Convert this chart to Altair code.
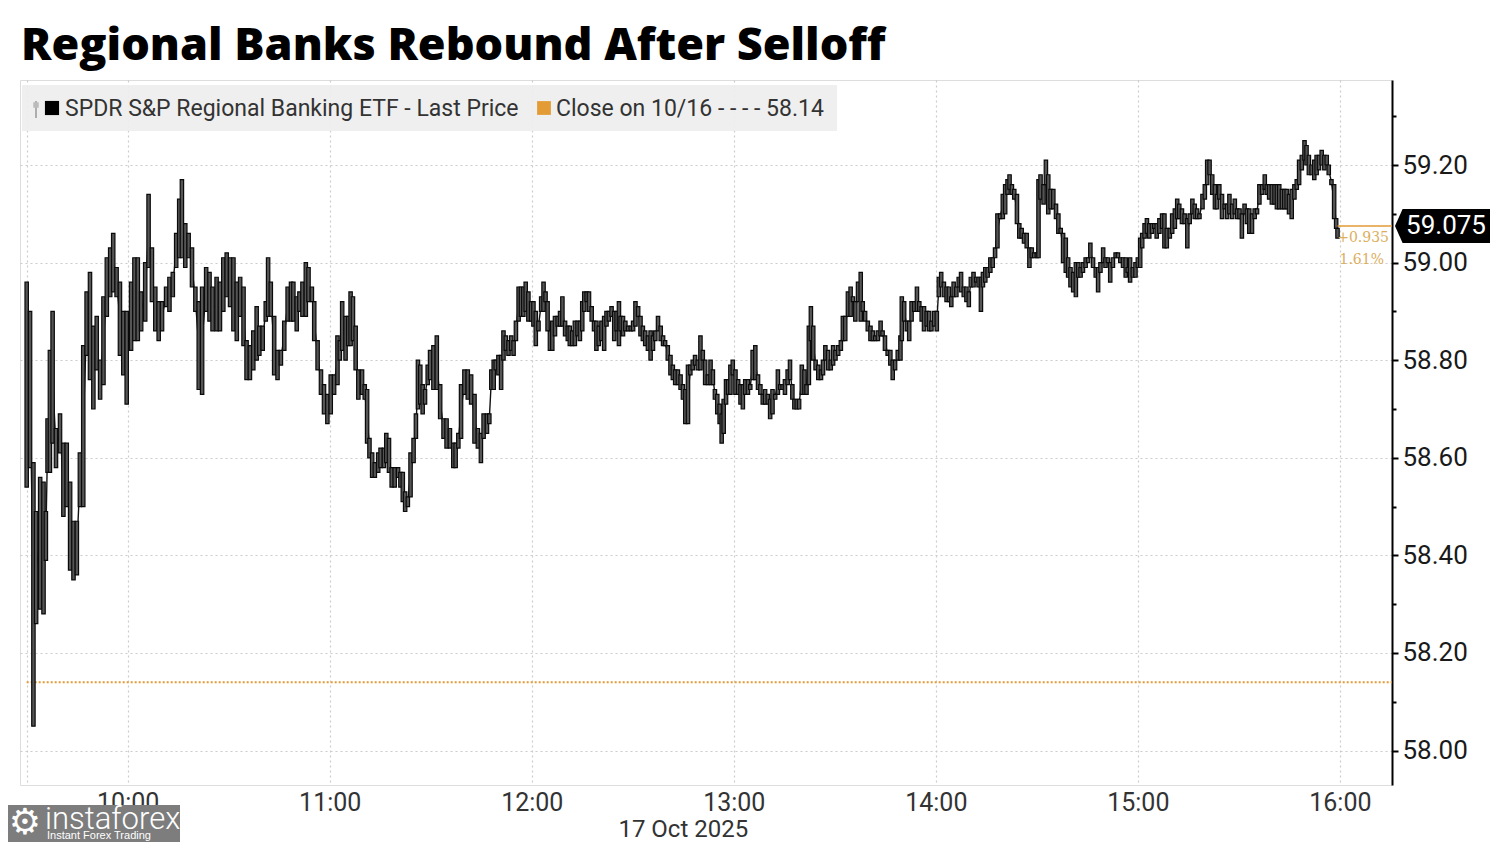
import altair as alt
import pandas as pd

# ---------------- text ----------------
TITLE = "Regional Banks Rebound After Selloff"
SERIES_NAME = "SPDR S&P Regional Banking ETF - Last Price"
CLOSE_NAME = "Close on 10/16 - - - - 58.14"
DATE_LABEL = "17 Oct 2025"
WATERMARK = "instaforex"
WATERMARK_SUB = "Instant Forex Trading"

prev_close = 58.14
last_price = 59.075
last_price_label = "59.075"
change_abs = "+0.935"
change_pct = "1.61%"

y_tick_values = [58.0, 58.1, 58.2, 58.3, 58.4, 58.5, 58.6, 58.7, 58.8, 58.9, 59.0, 59.1, 59.2, 59.3]
x_tick_times = ["09:30", "10:00", "11:00", "12:00", "13:00", "14:00", "15:00", "16:00"]

# ---------------- 1-minute bars: minutes after 09:30, low, high ----------------
minutes = [
    0.0, 1.0, 2.0, 2.8, 4.0, 5.0, 5.7, 6.2, 6.9, 7.7, 8.7, 9.9, 10.9, 11.9, 12.9, 13.9, 14.9, 15.8, 16.8, 17.8,
    18.8, 19.8, 20.8, 21.8, 22.8, 23.8, 24.8, 25.7, 26.7, 27.7, 28.7, 29.7, 31.0, 32.0, 33.0, 34.0, 35.2, 36.2,
    37.2, 38.2, 39.2, 40.2, 41.4, 42.4, 43.4, 44.4, 45.3, 46.1, 47.1, 48.1, 49.1, 50.1, 51.1, 52.1, 53.3, 54.3,
    55.2, 56.4, 57.4, 58.4, 59.4, 60.4, 61.4, 62.4, 63.4, 64.4, 65.3, 66.3, 67.3, 68.3,
    69.1, 70.1, 71.0, 71.7, 72.5, 73.5, 74.5, 75.5, 76.5, 77.5, 78.5, 79.2, 80.2, 81.0, 81.9, 82.9, 83.7, 84.7,
    85.4, 86.4, 87.4, 88.3, 89.3, 90.3, 91.3, 92.3, 93.0, 93.7, 94.7, 95.5, 96.2, 96.9, 97.7, 98.5, 99.6, 100.4,
    101.1, 101.8, 102.6, 103.4, 104.4, 105.1, 106.1, 106.8, 107.6, 108.4, 109.3, 110.3, 111.0, 111.7, 112.4,
    113.2, 114.0, 114.9, 115.6, 116.2, 116.9, 117.6, 118.3, 119.1, 119.8, 120.8, 121.8, 122.8, 123.8, 124.7,
    125.7, 126.7, 127.4, 128.2, 129.0, 130.0, 131.0, 132.0, 133.0, 134.0, 134.9,
    135.7, 136.7, 137.4, 138.0, 138.7, 139.3, 140.1, 140.9, 141.6, 142.3, 143.1, 143.9, 144.6, 145.3, 146.1,
    146.8, 147.5, 148.2, 149.0, 149.8, 150.5, 151.2, 152.0, 152.8, 153.5, 154.1, 154.7, 155.4, 156.1, 156.9,
    157.7, 158.4, 159.1, 159.9, 160.7, 161.3, 162.0, 162.8, 163.6, 164.3, 165.0, 165.6, 166.3, 167.0, 167.8,
    168.5, 169.2, 169.9, 170.7, 171.5, 172.2, 172.9, 173.7, 174.5, 175.2, 175.9, 176.4, 177.1, 177.8, 178.6,
    179.4, 180.1, 180.8, 181.6, 182.3, 183.0, 183.7, 184.5, 185.3, 186.0, 186.7, 187.5, 188.3, 189.0, 189.6,
    190.4, 191.2, 191.9, 192.6, 193.4, 194.2, 194.9, 195.6, 196.4, 197.1, 197.8, 198.5, 199.3, 200.1, 200.8,
    201.5, 202.3,
    203.1, 203.8, 204.4, 205.1, 205.8, 206.4, 207.0, 207.7, 208.3, 209.0, 209.7, 210.5, 211.3, 212.0, 212.7,
    213.4, 214.2, 214.9, 215.6, 216.4, 217.2, 217.9, 218.6, 219.3, 220.1, 220.8, 221.5, 222.3, 223.1, 223.8,
    224.5, 225.2, 226.0, 226.7, 227.4, 228.0, 228.7, 229.4, 230.2, 231.0, 231.6, 232.3, 232.9, 233.6, 234.3,
    235.1, 235.9, 236.5, 237.2, 238.0, 238.8, 239.5, 240.2, 241.0, 241.8, 242.4, 243.1, 243.9, 244.7, 245.4,
    246.1, 246.9, 247.7, 248.3, 249.0, 249.8, 250.6, 251.3, 252.0, 252.8, 253.6, 254.2, 254.9, 255.7, 256.5,
    257.2, 257.9, 258.7, 259.5, 259.9, 260.6, 261.4, 262.1, 262.8, 263.6, 264.4, 265.1, 265.8, 266.5, 267.3,
    268.0, 268.7, 269.5, 270.3,
    270.9, 271.6, 272.4, 273.2, 273.9, 274.6, 275.3, 276.1, 276.8, 277.5, 278.3, 279.1, 279.8, 280.4, 281.2,
    282.0, 282.7, 283.4, 284.0, 284.7, 285.4, 286.2, 286.9, 287.6, 288.3, 289.1, 289.9, 290.6, 291.3, 291.9,
    292.6, 293.3, 294.1, 294.8, 295.5, 296.2, 297.0, 297.8, 298.5, 299.2, 300.0, 300.5, 301.1, 302.0, 302.7,
    303.4, 304.1, 304.9, 305.7, 306.4, 307.1, 307.8, 308.6, 309.3, 310.0, 310.8, 311.6, 312.3, 313.0, 313.7,
    314.5, 315.2, 315.9, 316.7, 317.5, 318.2, 318.9, 319.7, 320.4, 321.1, 321.8, 322.6, 323.4, 324.1, 324.8,
    325.6, 326.4, 327.0, 327.7, 328.5, 329.3, 330.0, 330.7, 331.3, 332.0, 332.7, 333.4, 334.2, 334.9, 335.6,
    336.4, 337.2, 337.9, 338.6,
    339.5, 340.2, 341.0, 341.7, 342.3, 343.1, 343.9, 344.7, 345.4, 346.2, 346.9, 347.6, 348.3, 349.2, 349.9,
    350.6, 351.3, 352.1, 352.9, 353.5, 354.2, 355.0, 355.8, 356.5, 357.2, 358.0, 358.8, 359.5, 360.2, 360.9,
    361.7, 362.4, 363.1, 363.9, 364.7, 365.4, 366.1, 366.9, 367.7, 368.3, 369.0, 369.8, 370.6, 371.3, 372.0,
    372.8, 373.5, 374.2, 374.9, 375.7, 376.5, 377.2, 377.9, 378.7, 379.5, 380.1, 380.8, 381.6, 382.4, 383.1,
    383.8, 384.6, 385.4, 386.1, 386.7, 387.5, 388.3, 388.9, 389.3,
]
low = [
    58.54, 58.58, 58.05, 58.26, 58.29, 58.28, 58.39, 58.57, 58.57, 58.63, 58.58, 58.61, 58.48, 58.50, 58.37, 58.35,
    58.36, 58.50, 58.50, 58.81, 58.76, 58.70, 58.78, 58.72, 58.75, 58.89, 58.93, 58.94, 58.93, 58.81, 58.77, 58.71,
    58.82, 58.84, 58.84, 58.86, 58.88, 58.99, 58.92, 58.86, 58.84, 58.86, 58.91, 58.90, 58.93, 58.99, 59.01, 59.01,
    58.99, 59.01, 58.95, 58.90, 58.74, 58.73, 58.90, 58.88, 58.86, 58.86, 58.86, 58.90, 58.93, 58.91, 58.86, 58.84,
    58.89, 58.83, 58.76, 58.76, 58.78, 58.80,
    58.81, 58.82, 58.88, 58.89, 58.89, 58.77, 58.76, 58.79, 58.82, 58.88, 58.88, 58.88, 58.86, 58.90, 58.89, 58.89,
    58.92, 58.92, 58.84, 58.78, 58.73, 58.69, 58.67, 58.69, 58.73, 58.75, 58.80, 58.82, 58.80, 58.83, 58.83, 58.84,
    58.78, 58.72, 58.73, 58.72, 58.63, 58.60, 58.56, 58.56, 58.57, 58.58, 58.58, 58.59, 58.57, 58.54, 58.54, 58.56,
    58.54, 58.51, 58.49, 58.50, 58.52, 58.59, 58.64, 58.70, 58.71, 58.69, 58.71, 58.75, 58.76, 58.74, 58.74, 58.68,
    58.64, 58.62, 58.62, 58.58, 58.58, 58.62, 58.64, 58.73, 58.72, 58.71, 58.63, 58.62, 58.59,
    58.64, 58.65, 58.67, 58.74, 58.74, 58.78, 58.77, 58.74, 58.80, 58.82, 58.81, 58.82, 58.81, 58.84, 58.88, 58.89,
    58.89, 58.90, 58.88, 58.88, 58.87, 58.83, 58.86, 58.90, 58.90, 58.92, 58.86, 58.82, 58.82, 58.85, 58.87, 58.87,
    58.87, 58.85, 58.84, 58.83, 58.83, 58.83, 58.85, 58.84, 58.86, 58.90, 58.92, 58.90, 58.88, 58.86, 58.82, 58.83,
    58.84, 58.82, 58.87, 58.88, 58.89, 58.84, 58.86, 58.83, 58.86, 58.85, 58.86, 58.86, 58.86, 58.86, 58.87, 58.89,
    58.85, 58.84, 58.83, 58.82, 58.80, 58.82, 58.84, 58.86, 58.84, 58.83, 58.83, 58.80, 58.77, 58.76, 58.75, 58.75,
    58.74, 58.72, 58.67, 58.67, 58.77, 58.78, 58.79, 58.78, 58.78, 58.80, 58.75, 58.75,
    58.75, 58.75, 58.72, 58.69, 58.67, 58.63, 58.65, 58.71, 58.73, 58.73, 58.77, 58.73, 58.73, 58.71, 58.70, 58.73,
    58.73, 58.74, 58.76, 58.76, 58.74, 58.73, 58.71, 58.71, 58.71, 58.68, 58.69, 58.72, 58.73, 58.74, 58.74, 58.73,
    58.75, 58.76, 58.72, 58.70, 58.70, 58.70, 58.73, 58.73, 58.73, 58.75, 58.84, 58.80, 58.78, 58.76, 58.76, 58.77,
    58.80, 58.78, 58.78, 58.79, 58.80, 58.81, 58.82, 58.84, 58.84, 58.89, 58.89, 58.92, 58.88, 58.92, 58.88, 58.90,
    58.88, 58.86, 58.84, 58.84, 58.84, 58.84, 58.85, 58.85, 58.82, 58.81, 58.79, 58.76, 58.78, 58.80, 58.80, 58.84,
    58.88, 58.86, 58.84, 58.88, 58.90, 58.90, 58.90, 58.88, 58.86, 58.87, 58.86, 58.86, 58.87, 58.86,
    58.93, 58.95, 58.93, 58.92, 58.92, 58.91, 58.93, 58.93, 58.95, 58.94, 58.93, 58.92, 58.91, 58.95, 58.95, 58.96,
    58.95, 58.90, 58.95, 58.96, 58.97, 58.98, 58.99, 59.01, 59.03, 59.09, 59.09, 59.10, 59.14, 59.15, 59.14, 59.13,
    59.08, 59.05, 59.05, 59.04, 59.03, 58.99, 59.01, 59.01, 59.01, 59.01, 59.13, 59.12, 59.16, 59.10, 59.11, 59.11,
    59.09, 59.06, 59.06, 59.00, 58.98, 58.97, 58.95, 58.94, 58.93, 58.97, 58.97, 58.98, 58.99, 59.00, 59.01, 58.99,
    58.97, 58.94, 58.98, 59.00, 58.99, 59.00, 58.96, 58.99, 59.01, 59.01, 59.00, 58.99, 58.97, 58.98, 58.96, 58.97,
    58.97, 58.99, 58.99, 59.03, 59.05, 59.06, 59.05, 59.06, 59.07, 59.05, 59.06, 59.07, 59.03, 59.03,
    59.05, 59.06, 59.07, 59.09, 59.09, 59.08, 59.08, 59.03, 59.08, 59.10, 59.09, 59.09, 59.09, 59.11, 59.13, 59.16,
    59.18, 59.14, 59.11, 59.11, 59.13, 59.09, 59.11, 59.09, 59.10, 59.09, 59.10, 59.09, 59.09, 59.05, 59.10, 59.08,
    59.06, 59.06, 59.09, 59.10, 59.12, 59.14, 59.15, 59.14, 59.13, 59.12, 59.12, 59.11, 59.11, 59.11, 59.11, 59.11,
    59.10, 59.09, 59.13, 59.15, 59.16, 59.19, 59.21, 59.20, 59.18, 59.18, 59.17, 59.18, 59.19, 59.20, 59.19, 59.20,
    59.18, 59.16, 59.09, 59.07, 59.05,
]
high = [
    58.96, 58.90, 58.59, 58.49, 58.56, 58.55, 58.49, 58.68, 58.82, 58.90, 58.66, 58.69, 58.63, 58.63, 58.55, 58.47,
    58.47, 58.61, 58.83, 58.94, 58.98, 58.87, 58.89, 58.80, 58.93, 59.01, 59.03, 59.06, 58.99, 58.96, 58.90, 58.90,
    58.96, 59.01, 59.01, 58.94, 59.00, 59.14, 59.03, 58.95, 58.92, 58.92, 58.95, 58.97, 58.98, 59.06, 59.13, 59.17,
    59.08, 59.06, 59.03, 58.95, 58.92, 58.95, 58.99, 58.98, 58.95, 58.97, 58.96, 59.01, 59.02, 59.01, 59.01, 58.96,
    58.97, 58.95, 58.84, 58.83, 58.86, 58.91,
    58.87, 58.87, 58.92, 59.01, 58.96, 58.89, 58.82, 58.82, 58.88, 58.95, 58.96, 58.96, 58.93, 58.94, 58.96, 59.00,
    58.99, 58.95, 58.92, 58.84, 58.78, 58.75, 58.73, 58.77, 58.77, 58.85, 58.84, 58.92, 58.89, 58.89, 58.94, 58.93,
    58.87, 58.78, 58.78, 58.75, 58.74, 58.64, 58.61, 58.59, 58.61, 58.62, 58.62, 58.65, 58.64, 58.58, 58.58, 58.58,
    58.57, 58.57, 58.53, 58.52, 58.61, 58.64, 58.69, 58.80, 58.79, 58.75, 58.74, 58.79, 58.82, 58.83, 58.85, 58.75,
    58.68, 58.68, 58.66, 58.63, 58.63, 58.65, 58.75, 58.78, 58.78, 58.77, 58.73, 58.66, 58.65,
    58.69, 58.69, 58.69, 58.78, 58.80, 58.80, 58.81, 58.81, 58.86, 58.85, 58.84, 58.85, 58.84, 58.88, 58.95, 58.95,
    58.95, 58.96, 58.94, 58.92, 58.92, 58.90, 58.88, 58.93, 58.96, 58.94, 58.92, 58.86, 58.88, 58.89, 58.89, 58.90,
    58.93, 58.88, 58.87, 58.87, 58.86, 58.88, 58.88, 58.88, 58.92, 58.94, 58.94, 58.94, 58.91, 58.88, 58.88, 58.87,
    58.88, 58.89, 58.90, 58.90, 58.91, 58.90, 58.90, 58.92, 58.89, 58.89, 58.88, 58.87, 58.87, 58.88, 58.92, 58.91,
    58.89, 58.87, 58.86, 58.85, 58.86, 58.85, 58.86, 58.89, 58.87, 58.85, 58.84, 58.83, 58.81, 58.79, 58.78, 58.78,
    58.77, 58.75, 58.74, 58.79, 58.79, 58.80, 58.81, 58.80, 58.85, 58.82, 58.80, 58.77,
    58.80, 58.78, 58.74, 58.73, 58.71, 58.69, 58.72, 58.76, 58.76, 58.79, 58.80, 58.78, 58.76, 58.75, 58.75, 58.76,
    58.76, 58.75, 58.82, 58.83, 58.77, 58.75, 58.73, 58.74, 58.73, 58.72, 58.74, 58.73, 58.78, 58.75, 58.75, 58.76,
    58.78, 58.80, 58.75, 58.72, 58.72, 58.72, 58.79, 58.78, 58.75, 58.87, 58.91, 58.87, 58.80, 58.79, 58.78, 58.80,
    58.83, 58.82, 58.80, 58.83, 58.82, 58.83, 58.84, 58.89, 58.89, 58.94, 58.95, 58.93, 58.92, 58.96, 58.98, 58.92,
    58.90, 58.88, 58.87, 58.86, 58.85, 58.86, 58.88, 58.86, 58.85, 58.82, 58.82, 58.80, 58.80, 58.82, 58.85, 58.93,
    58.92, 58.88, 58.88, 58.92, 58.92, 58.95, 58.92, 58.91, 58.91, 58.90, 58.90, 58.88, 58.90, 58.90,
    58.97, 58.98, 58.96, 58.95, 58.95, 58.93, 58.96, 58.95, 58.97, 58.98, 58.95, 58.95, 58.94, 58.97, 58.98, 58.97,
    58.97, 58.97, 58.98, 58.99, 58.99, 59.01, 59.01, 59.03, 59.10, 59.10, 59.14, 59.16, 59.17, 59.18, 59.16, 59.15,
    59.14, 59.08, 59.07, 59.06, 59.06, 59.03, 59.03, 59.02, 59.02, 59.17, 59.18, 59.16, 59.21, 59.18, 59.15, 59.15,
    59.12, 59.10, 59.07, 59.06, 59.05, 59.01, 58.99, 58.98, 59.00, 59.00, 58.99, 59.00, 59.01, 59.01, 59.04, 59.01,
    58.99, 58.99, 59.00, 59.03, 59.01, 59.01, 59.00, 59.01, 59.02, 59.02, 59.01, 59.01, 59.01, 58.99, 59.01, 58.99,
    59.00, 59.01, 59.05, 59.06, 59.08, 59.09, 59.08, 59.08, 59.08, 59.08, 59.09, 59.10, 59.10, 59.07,
    59.07, 59.10, 59.11, 59.13, 59.12, 59.11, 59.10, 59.09, 59.10, 59.13, 59.12, 59.11, 59.10, 59.14, 59.16, 59.21,
    59.21, 59.18, 59.16, 59.14, 59.16, 59.14, 59.12, 59.12, 59.14, 59.12, 59.13, 59.11, 59.11, 59.10, 59.12, 59.11,
    59.11, 59.10, 59.11, 59.11, 59.16, 59.16, 59.18, 59.16, 59.16, 59.16, 59.16, 59.16, 59.16, 59.15, 59.15, 59.15,
    59.14, 59.15, 59.16, 59.17, 59.21, 59.22, 59.25, 59.24, 59.22, 59.20, 59.21, 59.22, 59.22, 59.23, 59.22, 59.22,
    59.20, 59.17, 59.16, 59.09, 59.07,
]

# ---------------- tables ----------------
day = "2025-10-17"
open_time = pd.Timestamp(f"{day} 09:30:00")
bars = pd.DataFrame({
    "t": open_time + pd.to_timedelta([round(m * 60) for m in minutes], unit="s"),
    "low": low,
    "high": high,
})
close_df = pd.DataFrame({"t": [open_time], "y": [prev_close]})
last_df = pd.DataFrame({"t": [bars["t"].iloc[-1]], "y": [last_price], "label": [last_price_label]})
date_df = pd.DataFrame({"t": [pd.Timestamp(f"{day} 12:45:00")], "label": [DATE_LABEL]})
dummy = pd.DataFrame({"a": [0]})

W, H = 1372, 705
FONT = "Roboto"
ORANGE = "#e39b36"

def dt(hh, mm, ss=0):
    return alt.DateTime(year=2025, month=10, date=17, hours=hh, minutes=mm, seconds=ss)

x_scale = alt.Scale(domain=[dt(9, 29, 30), dt(16, 14)])
y_scale = alt.Scale(domain=[57.9295, 59.3742], nice=False, zero=False)

x_axis = alt.Axis(
    values=[dt(int(s[:2]), int(s[3:])) for s in x_tick_times],
    labelExpr="hours(datum.value) == 9 ? '' : timeFormat(datum.value, '%H:%M')",
    grid=True, gridColor="#cccccc", gridDash=[2, 3], gridWidth=1.2,
    domain=False, ticks=False, labelPadding=5,
    labelFont=FONT, labelFontSize=25, labelColor="#333333", title=None,
)
even = "round(datum.value * 10) % 2 == 0"
y_axis = alt.Axis(
    orient="right", values=y_tick_values,
    labelExpr=f"{even} ? format(datum.value, '.2f') : ''",
    grid=True, gridColor="#cccccc", gridDash=[2, 3], gridWidth=1.2,
    gridOpacity={"condition": {"test": even, "value": 1}, "value": 0},
    domain=True, domainColor="#000000", domainWidth=2,
    ticks=True, tickColor="#000000", tickWidth=2,
    tickSize={"condition": {"test": even, "value": 6}, "value": 4},
    labelPadding=4, labelFont=FONT, labelFontSize=26, labelColor="#1a1a1a", title=None,
)

# ---------------- layers ----------------
legend_box = alt.Chart(dummy).mark_rect(color="#eeeeee", opacity=0.92).encode(
    x=alt.value(2), x2=alt.value(817), y=alt.value(5), y2=alt.value(51))
legend_icon = alt.Chart(dummy).mark_rule(color="#999999", strokeWidth=1.5).encode(
    x=alt.value(16), y=alt.value(21), y2=alt.value(38))
legend_icon2 = alt.Chart(dummy).mark_square(size=30, color="#bbbbbb", opacity=1).encode(
    x=alt.value(16), y=alt.value(25))
legend_sq1 = alt.Chart(dummy).mark_square(size=200, color="#000000", opacity=1).encode(
    x=alt.value(32), y=alt.value(28))
legend_sq2 = alt.Chart(dummy).mark_square(size=190, color=ORANGE, opacity=1).encode(
    x=alt.value(524), y=alt.value(28))
legend_t1 = alt.Chart(dummy).mark_text(text=SERIES_NAME, align="left", baseline="middle",
                                       font=FONT, fontSize=23, color="#333333").encode(
    x=alt.value(45), y=alt.value(29))
legend_t2 = alt.Chart(dummy).mark_text(text=CLOSE_NAME, align="left", baseline="middle",
                                       font=FONT, fontSize=23, color="#333333").encode(
    x=alt.value(536), y=alt.value(29))

close_rule = alt.Chart(close_df).mark_rule(color=ORANGE, strokeWidth=2, strokeDash=[2, 2]).encode(
    x=alt.X("t:T", scale=x_scale, axis=x_axis), x2=alt.value(W),
    y=alt.Y("y:Q", scale=y_scale, axis=y_axis))

mid_line = alt.Chart(bars).transform_calculate(mid="(datum.low + datum.high) / 2").mark_line(
    color="#111111", strokeWidth=1.4).encode(
    x=alt.X("t:T", scale=x_scale, axis=x_axis),
    y=alt.Y("mid:Q", scale=y_scale, axis=y_axis))

price_bars = alt.Chart(bars).mark_bar(width=3.4, fill="#555555", stroke="#0a0a0a", strokeWidth=1.2).encode(
    x=alt.X("t:T", scale=x_scale, axis=x_axis),
    y=alt.Y("low:Q", scale=y_scale, axis=y_axis),
    y2="high:Q")

last_rule = alt.Chart(last_df).mark_rule(color=ORANGE, strokeWidth=1.5).encode(
    x=alt.X("t:T", scale=x_scale, axis=x_axis), x2=alt.value(W),
    y=alt.Y("y:Q", scale=y_scale, axis=y_axis))

tag_path = "M-1,0L-0.84,-0.36L1,-0.36L1,0.36L-0.84,0.36Z"
last_tag = alt.Chart(last_df).mark_point(shape=tag_path, size=95 * 95, filled=True,
                                         color="#000000", opacity=1).encode(
    x=alt.value(1422.5), y=alt.Y("y:Q", scale=y_scale, axis=y_axis))
last_text = alt.Chart(last_df).mark_text(font=FONT, fontSize=26, color="#ffffff",
                                         align="center", baseline="middle").encode(
    x=alt.value(1426), y=alt.Y("y:Q", scale=y_scale, axis=y_axis), text="label:N")
chg1 = alt.Chart(last_df).mark_text(text=change_abs, font="DejaVu Serif", fontSize=14, color="#dcae5c",
                                    align="right", baseline="middle", dy=12).encode(
    x=alt.value(1369), y=alt.Y("y:Q", scale=y_scale, axis=y_axis))
chg2 = alt.Chart(last_df).mark_text(text=change_pct, font="DejaVu Serif", fontSize=14, color="#dcae5c",
                                    align="right", baseline="middle", dy=34).encode(
    x=alt.value(1364), y=alt.Y("y:Q", scale=y_scale, axis=y_axis))

date_text = alt.Chart(date_df).mark_text(font=FONT, fontSize=24, color="#333333",
                                         align="center", baseline="middle").encode(
    x=alt.X("t:T", scale=x_scale, axis=x_axis), y=alt.value(750), text="label:N")

wm_box = alt.Chart(dummy).mark_rect(color="#7d7d7d", opacity=1).encode(
    x=alt.value(-12), x2=alt.value(160), y=alt.value(725), y2=alt.value(775))
wm_gear = alt.Chart(dummy).mark_text(text="⚙", font="DejaVu Sans", fontSize=36, color="#ffffff",
                                     align="center", baseline="middle").encode(
    x=alt.value(5), y=alt.value(743))
wm_text = alt.Chart(dummy).mark_text(text=WATERMARK, font=FONT, fontWeight=300, fontSize=31,
                                     color="#ffffff", align="left", baseline="middle").encode(
    x=alt.value(25), y=alt.value(740))
wm_sub = alt.Chart(dummy).mark_text(text=WATERMARK_SUB, font="Liberation Sans", fontSize=11,
                                    color="#ffffff", align="left", baseline="middle").encode(
    x=alt.value(27), y=alt.value(756))

chart = alt.layer(
    close_rule, legend_box, legend_icon, legend_icon2, legend_sq1, legend_sq2, legend_t1, legend_t2,
    mid_line, price_bars, last_rule, last_tag, last_text, chg1, chg2, date_text,
    wm_box, wm_gear, wm_text, wm_sub,
).properties(
    width=W, height=H,
    title=alt.Title(TITLE, anchor="start", frame="group", font="Open Sans", fontSize=45, fontWeight=800,
                    color="#000000", baseline="alphabetic", offset=17, dy=42, dx=1),
    padding={"left": 12, "top": 72, "right": 100, "bottom": 57},
    autosize=alt.AutoSizeParams(type="none"),
).configure_view(stroke=None).configure(background="#ffffff")

chart.save("out.html", embed_options={"renderer": "svg", "actions": False})
